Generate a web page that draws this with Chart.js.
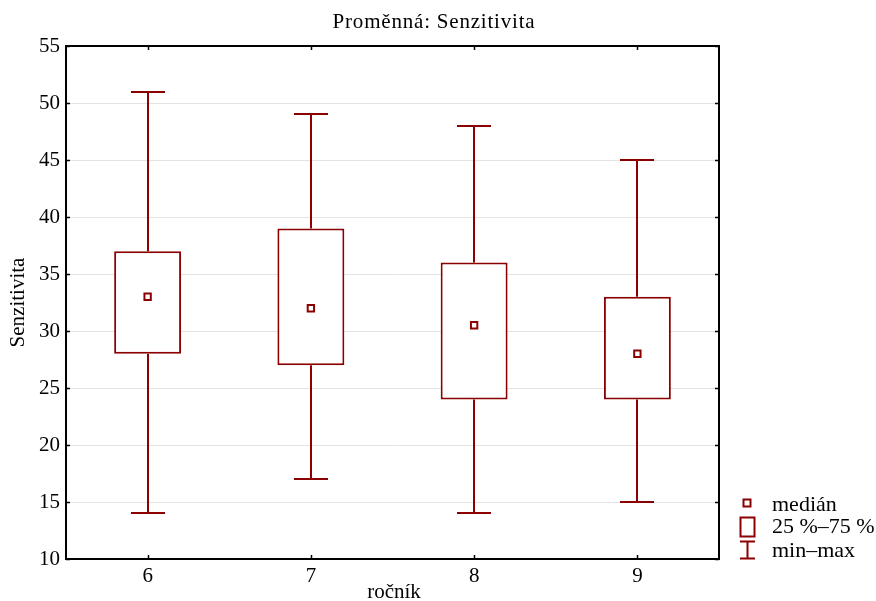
<!DOCTYPE html>
<html>
<head>
<meta charset="utf-8">
<script src="https://cdn.jsdelivr.net/npm/chart.js@4/dist/chart.umd.min.js"></script>
<style>
  html, body { margin: 0; padding: 0; background: #fff; }
  #wrap { width: 876px; height: 601px; }
</style>
</head>
<body>
<div id="wrap"><canvas id="c" width="876" height="601"></canvas></div>
<script>
const categories = ['6', '7', '8', '9'];
const minValues = [14, 17, 14, 15];
const q1Values = [28, 27, 24, 24];
const medianValues = [33, 32, 30.5, 28];
const q3Values = [37, 39, 36, 33];
const maxValues = [51, 49, 48, 45];
const yTickValues = [10, 15, 20, 25, 30, 35, 40, 45, 50, 55];
const titleText = 'Proměnná: Senzitivita';
const xTitle = 'ročník';
const yTitle = 'Senzitivita';
const legendLabels = ['medián', '25 %\u201375 %', 'min\u2013max'];

const RED = '#8b0000';
const FONT = '"Liberation Serif", "Times New Roman", serif';
const LW = 2;

const framePlugin = {
  id: 'frameAndWhiskers',
  beforeDatasetsDraw(chart) {
    const ctx = chart.ctx;
    const x = chart.scales.x, y = chart.scales.y;
    ctx.save();
    ctx.strokeStyle = RED;
    ctx.lineWidth = LW;
    categories.forEach((c, i) => {
      const px = Math.round(x.getPixelForValue(i));
      const yMin = Math.round(y.getPixelForValue(minValues[i]));
      const yMax = Math.round(y.getPixelForValue(maxValues[i]));
      const yQ1 = y.getPixelForValue(q1Values[i]);
      const yQ3 = y.getPixelForValue(q3Values[i]);
      const cap = 17;
      ctx.beginPath();
      ctx.moveTo(px, yMax); ctx.lineTo(px, yQ3);
      ctx.moveTo(px, yQ1); ctx.lineTo(px, yMin);
      ctx.moveTo(px - cap, yMax); ctx.lineTo(px + cap, yMax);
      ctx.moveTo(px - cap, yMin); ctx.lineTo(px + cap, yMin);
      ctx.stroke();
    });
    ctx.restore();
  },
  afterDraw(chart) {
    const ctx = chart.ctx;
    const a = chart.chartArea;
    const x = chart.scales.x, y = chart.scales.y;
    ctx.save();
    // frame
    ctx.strokeStyle = '#000';
    ctx.lineWidth = 2;
    ctx.strokeRect(a.left, a.top, a.right - a.left, a.bottom - a.top);
    // inward ticks
    ctx.lineWidth = 1.5;
    ctx.beginPath();
    yTickValues.forEach(v => {
      const py = Math.round(y.getPixelForValue(v)) + 0.5;
      ctx.moveTo(a.left, py); ctx.lineTo(a.left + 4, py);
      ctx.moveTo(a.right, py); ctx.lineTo(a.right - 4, py);
    });
    categories.forEach((c, i) => {
      const px = Math.round(x.getPixelForValue(i)) + 0.5;
      ctx.moveTo(px, a.top); ctx.lineTo(px, a.top + 4);
      ctx.moveTo(px, a.bottom); ctx.lineTo(px, a.bottom - 4);
    });
    ctx.stroke();

    // titles
    ctx.fillStyle = '#000';
    ctx.textAlign = 'center';
    ctx.textBaseline = 'alphabetic';
    ctx.font = '21px ' + FONT;
    ctx.letterSpacing = '0.8px';
    ctx.fillText(titleText, 434, 28);
    ctx.letterSpacing = '0px';
    ctx.fillText(xTitle, 394, 598);
    ctx.save();
    ctx.translate(24, (a.top + a.bottom) / 2);
    ctx.rotate(-Math.PI / 2);
    ctx.fillText(yTitle, 0, 0);
    ctx.restore();

    // legend
    ctx.strokeStyle = RED;
    ctx.lineWidth = LW;
    ctx.strokeRect(743.5, 499.5, 7, 7);
    ctx.strokeRect(740.5, 517.5, 14, 19);
    ctx.beginPath();
    ctx.moveTo(740, 541.5); ctx.lineTo(755, 541.5);
    ctx.moveTo(747.5, 541.5); ctx.lineTo(747.5, 558.5);
    ctx.moveTo(740, 558.5); ctx.lineTo(755, 558.5);
    ctx.stroke();
    ctx.fillStyle = '#000';
    ctx.textAlign = 'left';
    ctx.font = '22px ' + FONT;
    ctx.fillText(legendLabels[0], 772, 511);
    ctx.fillText(legendLabels[1], 772, 533);
    ctx.fillText(legendLabels[2], 772, 557);
    ctx.restore();
  }
};

new Chart(document.getElementById('c'), {
  type: 'bar',
  data: {
    labels: categories,
    datasets: [
      {
        type: 'bar',
        label: '25 %–75 %',
        data: categories.map((c, i) => [q1Values[i], q3Values[i]]),
        backgroundColor: '#ffffff',
        borderColor: RED,
        borderWidth: LW,
        borderSkipped: false,
        barPercentage: 1,
        categoryPercentage: 0.41,
        order: 2
      },
      {
        type: 'line',
        label: 'medián',
        data: medianValues,
        showLine: false,
        pointStyle: 'rect',
        pointRadius: 4.5,
        pointHoverRadius: 4.5,
        pointBackgroundColor: '#ffffff',
        pointBorderColor: RED,
        pointBorderWidth: LW,
        order: 1
      }
    ]
  },
  options: {
    responsive: false,
    animation: false,
    events: [],
    layout: { padding: { top: 46, right: 157, left: 0, bottom: 0 } },
    plugins: {
      legend: { display: false },
      title: { display: false },
      tooltip: { enabled: false }
    },
    scales: {
      x: {
        type: 'category',
        offset: true,
        grid: { display: false, drawTicks: false },
        border: { display: false },
        ticks: { color: '#000', font: { family: FONT, size: 21 }, padding: 5, maxRotation: 0 },
        afterFit(s) { s.height = 42; }
      },
      y: {
        min: 10,
        max: 55,
        afterBuildTicks(s) { s.ticks = yTickValues.map(v => ({ value: v })); },
        grid: { color: '#e3e3e3', lineWidth: 1, drawTicks: false },
        border: { display: false },
        ticks: { color: '#000', font: { family: FONT, size: 21 }, padding: 6 },
        afterFit(s) { s.width = 66; }
      }
    }
  },
  plugins: [framePlugin]
});
</script>
</body>
</html>
